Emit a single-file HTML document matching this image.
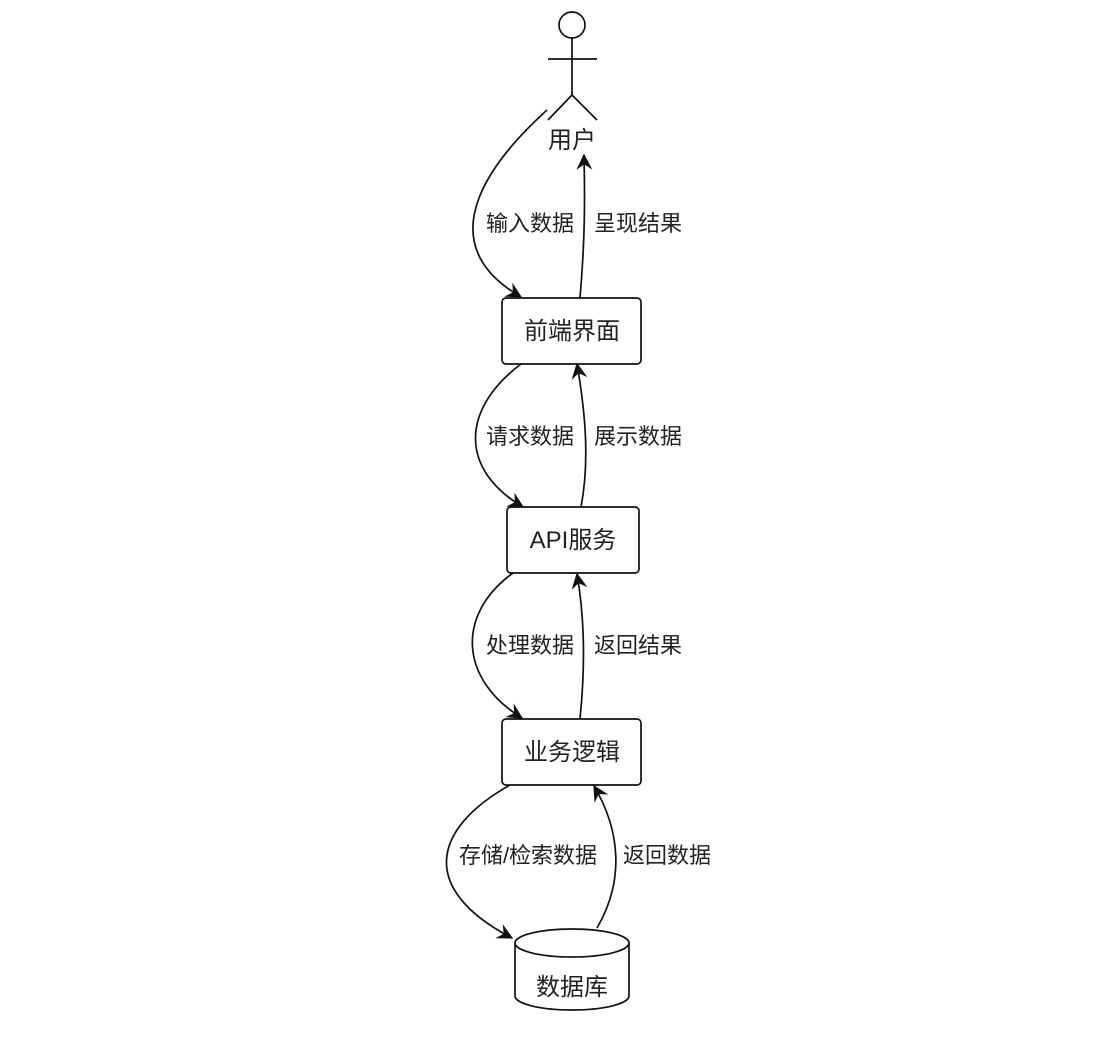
<!DOCTYPE html>
<html><head><meta charset="utf-8"><style>
html,body{margin:0;padding:0;background:#fff;}
svg text{font-family:"Liberation Sans","Noto Sans CJK SC",sans-serif;font-size:22px;fill:#222;}
svg text.node{font-size:24px;}
</style></head><body>
<svg width="1102" height="1032" viewBox="0 0 1102 1032">
<defs>
<marker id="ar" viewBox="0 0 12 12" refX="11" refY="6" markerWidth="16" markerHeight="16" markerUnits="userSpaceOnUse" orient="auto">
<path d="M0,0 L12,6 L0,12 L4,6 Z" fill="#111"/>
</marker>
</defs>
<g fill="none" stroke="#111" stroke-width="1.7">
<g>
<circle cx="572" cy="25" r="13"/>
<line x1="572" y1="38" x2="572" y2="95"/>
<line x1="548" y1="59" x2="597" y2="59"/>
<line x1="572" y1="95" x2="548" y2="120"/>
<line x1="572" y1="95" x2="597" y2="120"/>
</g>
<rect x="502" y="298" width="139" height="66" rx="4" fill="#fff"/>
<rect x="507" y="507" width="132" height="66" rx="4" fill="#fff"/>
<rect x="502" y="719" width="139" height="66" rx="4" fill="#fff"/>
<g>
<path d="M515,943 L515,996 A57,14 0 0 0 629,996 L629,943" fill="#fff"/>
<ellipse cx="572" cy="943" rx="57" ry="14" fill="#fff"/>
</g>
<path d="M547,110 C470,180 440,250 521,297" marker-end="url(#ar)"/>
<path d="M580,298 C585,240 585,200 584,155" marker-end="url(#ar)"/>
<path d="M521,364 C460,410 460,470 523,507" marker-end="url(#ar)"/>
<path d="M581,507 C590,460 585,410 577,364" marker-end="url(#ar)"/>
<path d="M513,573 C455,615 460,680 522,718" marker-end="url(#ar)"/>
<path d="M580,719 C585,670 585,620 577,574" marker-end="url(#ar)"/>
<path d="M510,785 C430,830 420,890 512,938" marker-end="url(#ar)"/>
<path d="M597,928 C625,880 620,830 594,786" marker-end="url(#ar)"/>
</g>
<g text-anchor="middle">
<text class="node" x="572" y="148">用户</text>
<text class="node" x="572" y="339">前端界面</text>
<text class="node" x="573" y="548">API服务</text>
<text class="node" x="572" y="760">业务逻辑</text>
<text class="node" x="572" y="995">数据库</text>
</g>
<g text-anchor="middle">
<rect x="482" y="211" width="96" height="26" fill="#fff"/><text x="530" y="231">输入数据</text>
<rect x="590" y="211" width="96" height="26" fill="#fff"/><text x="638" y="231">呈现结果</text>
<rect x="482" y="424" width="96" height="26" fill="#fff"/><text x="530" y="444">请求数据</text>
<rect x="590" y="424" width="96" height="26" fill="#fff"/><text x="638" y="444">展示数据</text>
<rect x="482" y="633" width="96" height="26" fill="#fff"/><text x="530" y="653">处理数据</text>
<rect x="590" y="633" width="96" height="26" fill="#fff"/><text x="638" y="653">返回结果</text>
<rect x="452" y="843" width="152" height="26" fill="#fff"/><text x="528" y="863">存储/检索数据</text>
<rect x="620" y="843" width="96" height="26" fill="#fff"/><text x="667" y="863">返回数据</text>
</g>
</svg>
</body></html>
